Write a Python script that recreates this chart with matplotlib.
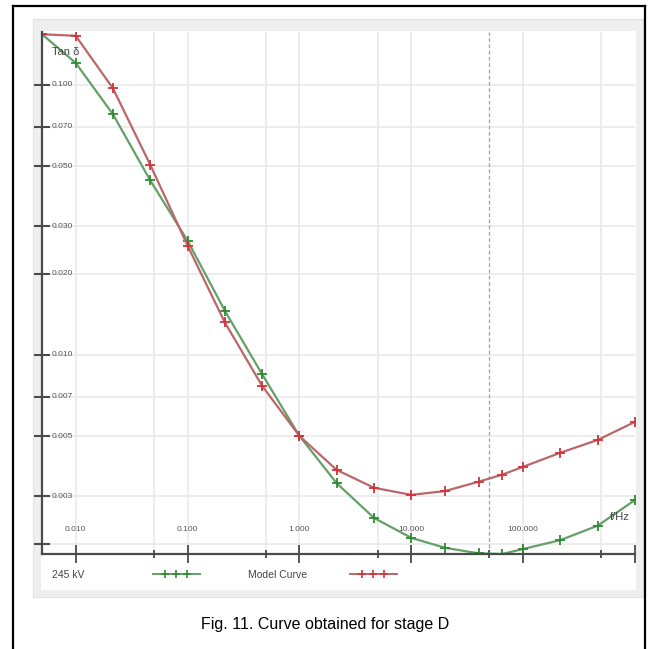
import matplotlib
matplotlib.use("Agg")
import matplotlib.pyplot as plt
from matplotlib.lines import Line2D
from matplotlib.patches import Rectangle
import matplotlib.transforms as mtransforms

# frequencies (Hz) and tan delta values
freq = [0.005, 0.01, 0.0215, 0.0464, 0.1, 0.215, 0.464, 1.0, 2.15, 4.64,
        10.0, 20.0, 40.0, 65.0, 100.0, 215.0, 464.0, 1000.0]
tan_245kv = [0.154, 0.1206, 0.0779, 0.0443, 0.0265, 0.01459, 0.00848, 0.00501, 0.00335, 0.00249,
             0.0021, 0.00193, 0.00184, 0.00183, 0.00191, 0.00206, 0.00233, 0.0029]
tan_model = [0.154, 0.152, 0.0972, 0.0506, 0.0254, 0.01321, 0.00768, 0.00501, 0.00375, 0.00322,
             0.00303, 0.00313, 0.00339, 0.0036, 0.00385, 0.00434, 0.00484, 0.00565]

y_ticks = [0.1, 0.07, 0.05, 0.03, 0.02, 0.01, 0.007, 0.005, 0.003, 0.002]
y_labels = ["0.100", "0.070", "0.050", "0.030", "0.020", "0.010", "0.007", "0.005", "0.003", ""]
x_major = [0.01, 0.1, 1.0, 10.0, 100.0, 1000.0]
x_labels = ["0.010", "0.100", "1.000", "10.000", "100.000", ""]
x_minor = [0.05, 0.5, 5.0, 50.0, 500.0]
mains_freq = 50.0

legend_names = ["245 kV", "Model Curve"]
caption = "Fig. 11. Curve obtained for stage D"

narrow = ["Liberation Sans Narrow", "Liberation Sans", "DejaVu Sans"]
c_green_line, c_green_mk = "#64a068", "#2f8a34"
c_red_line, c_red_mk = "#bc666a", "#d2343a"
c_axis = "#4a4a4a"

W, H = 650, 649
fig = plt.figure(figsize=(W / 100, H / 100), dpi=100)


def fx(px):
    return px / W


def fy(py):
    return 1 - py / H


# outer frame
for xs, ys in [([13, 13], [6, 649]), ([645, 645], [6, 649]), ([13, 645], [6, 6])]:
    fig.add_artist(Line2D([fx(v) for v in xs], [fy(v) for v in ys], color="black", lw=1.6))

# gray panel around the chart
fig.add_artist(Rectangle((fx(33), fy(597)), fx(643 - 33), (597 - 19) / H,
                         facecolor="#efefef", edgecolor="#e2e2e2", lw=0.8, zorder=-20))
fig.add_artist(Rectangle((fx(41), fy(590)), fx(636 - 41), (590 - 31) / H,
                         facecolor="white", edgecolor="none", zorder=-10))

ax = fig.add_axes([fx(42), fy(554), fx(635 - 42), (554 - 32) / H])
ax.set_zorder(5)
ax.set_xscale("log")
ax.set_yscale("log")
ax.set_xlim(0.005, 1000)
ax.set_ylim(0.00183, 0.157)
ax.set_facecolor("white")

# grid
for v in y_ticks:
    ax.axhline(v, color="#eaeaea", lw=1.2, zorder=0)
for v in x_major[:-1] + x_minor:
    if v == mains_freq:
        continue
    ax.axvline(v, color="#eaeaea", lw=1.2, zorder=0)
ax.axvline(mains_freq, color="#a0a0a0", lw=0.9, ls=(0, (3, 2)), zorder=1)

ax.plot(freq, tan_245kv, color=c_green_line, lw=1.6, marker="+", ms=6.5, mew=1.3,
        mec=c_green_mk, zorder=3)
ax.plot(freq, tan_model, color=c_red_line, lw=1.6, marker="+", ms=6.5, mew=1.3,
        mec=c_red_mk, zorder=3)

for s in ["top", "right"]:
    ax.spines[s].set_visible(False)
for s in ["left", "bottom"]:
    ax.spines[s].set_color(c_axis)
    ax.spines[s].set_linewidth(1.6)
    ax.spines[s].set_zorder(4)

ax.set_yticks(y_ticks)
ax.set_yticks([], minor=True)
ax.set_xticks(x_major)
ax.set_xticks(x_minor, minor=True)
ax.tick_params(axis="y", which="major", direction="inout", length=11, width=1.5,
               color=c_axis, labelleft=False)
ax.tick_params(axis="x", which="major", direction="inout", length=13, width=1.3,
               color=c_axis, labelbottom=False)
ax.tick_params(axis="x", which="minor", direction="inout", length=6, width=1.3,
               color=c_axis, labelbottom=False)

ty = mtransforms.blended_transform_factory(ax.transAxes, ax.transData)
for v, lab in zip(y_ticks, y_labels):
    ax.text(0.017, v, lab, transform=ty, ha="left", va="center", fontsize=6,
            color="#555555", family=narrow)
tx = mtransforms.blended_transform_factory(ax.transData, ax.transAxes)
for v, lab in zip(x_major, x_labels):
    ax.text(v, 0.046, lab, transform=tx, ha="center", va="center", fontsize=6,
            color="#555555", family=narrow)

ax.text(0.017, 0.962, "Tan δ", transform=ax.transAxes, ha="left", va="center",
        fontsize=8, color="#444444", family=narrow)
ax.text(0.975, 0.07, "f/Hz", transform=ax.transAxes, ha="center", va="center",
        fontsize=8, color="#444444", family=narrow)

# legend row
fig.text(fx(52), fy(575), legend_names[0], ha="left", va="center", fontsize=7.5,
         color="#444444", family=narrow)
fig.text(fx(248), fy(575), legend_names[1], ha="left", va="center", fontsize=7.5,
         color="#444444", family=narrow)
for x0, lc, mc in [(153, c_green_line, c_green_mk), (350, c_red_line, c_red_mk)]:
    fig.add_artist(Line2D([fx(x0), fx(x0 + 47)], [fy(574), fy(574)], color=lc, lw=1.4))
    fig.add_artist(Line2D([fx(x0 + 12), fx(x0 + 23), fx(x0 + 34)], [fy(574)] * 3,
                          ls="none", marker="+", ms=6, mew=1.2, color=mc))

fig.text(0.5, fy(625), caption, ha="center", va="center", fontsize=11.5,
         color="black", family=["Liberation Sans", "DejaVu Sans"])

fig.savefig("out.png", dpi=100)
